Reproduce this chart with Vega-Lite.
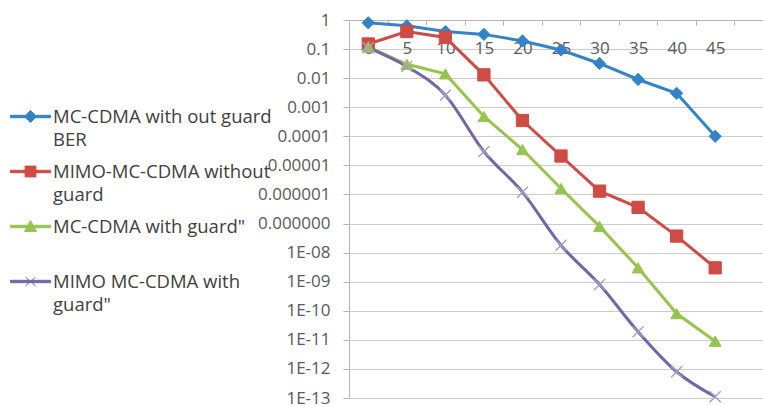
{
  "$schema": "https://vega.github.io/schema/vega-lite/v6.json",
  "width": 414,
  "height": 378,
  "autosize": {"type": "none"},
  "padding": {"left": 349, "top": 20, "right": 0, "bottom": 8},
  "background": "white",
  "config": {
    "view": {"stroke": null},
    "font": "Open Sans",
    "axis": {"labelFont": "Open Sans", "labelColor": "#595959", "labelFontSize": 17, "domainColor": "#b5b5b5", "tickColor": "#b5b5b5", "gridColor": "#cccccc", "title": null}
  },
  "data": {
    "values": [
      {"snr": 0, "series": "MC-CDMA with out guard BER", "ber": 0.8},
      {"snr": 5, "series": "MC-CDMA with out guard BER", "ber": 0.63},
      {"snr": 10, "series": "MC-CDMA with out guard BER", "ber": 0.4},
      {"snr": 15, "series": "MC-CDMA with out guard BER", "ber": 0.32},
      {"snr": 20, "series": "MC-CDMA with out guard BER", "ber": 0.19},
      {"snr": 25, "series": "MC-CDMA with out guard BER", "ber": 0.093},
      {"snr": 30, "series": "MC-CDMA with out guard BER", "ber": 0.032},
      {"snr": 35, "series": "MC-CDMA with out guard BER", "ber": 0.009},
      {"snr": 40, "series": "MC-CDMA with out guard BER", "ber": 0.003},
      {"snr": 45, "series": "MC-CDMA with out guard BER", "ber": 0.0001},
      {"snr": 0, "series": "MIMO-MC-CDMA without guard", "ber": 0.15},
      {"snr": 5, "series": "MIMO-MC-CDMA without guard", "ber": 0.4},
      {"snr": 10, "series": "MIMO-MC-CDMA without guard", "ber": 0.25},
      {"snr": 15, "series": "MIMO-MC-CDMA without guard", "ber": 0.013},
      {"snr": 20, "series": "MIMO-MC-CDMA without guard", "ber": 0.00035},
      {"snr": 25, "series": "MIMO-MC-CDMA without guard", "ber": 2.1e-5},
      {"snr": 30, "series": "MIMO-MC-CDMA without guard", "ber": 1.3e-6},
      {"snr": 35, "series": "MIMO-MC-CDMA without guard", "ber": 3.6e-7},
      {"snr": 40, "series": "MIMO-MC-CDMA without guard", "ber": 3.7e-8},
      {"snr": 45, "series": "MIMO-MC-CDMA without guard", "ber": 3e-9},
      {"snr": 0, "series": "MC-CDMA with guard\"", "ber": 0.12},
      {"snr": 5, "series": "MC-CDMA with guard\"", "ber": 0.03},
      {"snr": 10, "series": "MC-CDMA with guard\"", "ber": 0.014},
      {"snr": 15, "series": "MC-CDMA with guard\"", "ber": 0.00048},
      {"snr": 20, "series": "MC-CDMA with guard\"", "ber": 3.5e-5},
      {"snr": 25, "series": "MC-CDMA with guard\"", "ber": 1.6e-6},
      {"snr": 30, "series": "MC-CDMA with guard\"", "ber": 8e-8},
      {"snr": 35, "series": "MC-CDMA with guard\"", "ber": 3e-9},
      {"snr": 40, "series": "MC-CDMA with guard\"", "ber": 8e-11},
      {"snr": 45, "series": "MC-CDMA with guard\"", "ber": 9e-12},
      {"snr": 0, "series": "MIMO MC-CDMA with guard\"", "ber": 0.11},
      {"snr": 5, "series": "MIMO MC-CDMA with guard\"", "ber": 0.025},
      {"snr": 10, "series": "MIMO MC-CDMA with guard\"", "ber": 0.0026},
      {"snr": 15, "series": "MIMO MC-CDMA with guard\"", "ber": 3e-5},
      {"snr": 20, "series": "MIMO MC-CDMA with guard\"", "ber": 1.2e-6},
      {"snr": 25, "series": "MIMO MC-CDMA with guard\"", "ber": 1.8e-8},
      {"snr": 30, "series": "MIMO MC-CDMA with guard\"", "ber": 8e-10},
      {"snr": 35, "series": "MIMO MC-CDMA with guard\"", "ber": 1.9e-11},
      {"snr": 40, "series": "MIMO MC-CDMA with guard\"", "ber": 8e-13},
      {"snr": 45, "series": "MIMO MC-CDMA with guard\"", "ber": 1.1e-13}
    ]
  },
  "encoding": {
    "x": {
      "field": "snr", "type": "quantitative",
      "scale": {"domain": [-2.5, 51.2], "nice": false, "zero": false},
      "axis": {
        "orient": "top",
        "values": [-2.5, 2.5, 7.5, 12.5, 17.5, 22.5, 27.5, 32.5, 37.5, 42.5, 47.5],
        "labelExpr": "datum.value > 45 ? '' : format(datum.value + 2.5, 'd')",
        "labelOffset": 19.3,
        "labelAlign": "center",
        "labelBaseline": "middle",
        "tickSize": -5,
        "labelPadding": -23,
        "grid": false,
        "labelOverlap": false,
        "labelFlush": false
      }
    },
    "y": {
      "field": "ber", "type": "quantitative",
      "scale": {"type": "log", "domain": [1e-13, 1], "nice": false},
      "axis": {
        "values": [1, 0.1, 0.01, 0.001, 0.0001, 1e-5, 1e-6, 1e-7, 1e-8, 1e-9, 1e-10, 1e-11, 1e-12, 1e-13],
        "labelExpr": "round(log(datum.value)/LN10) >= -6 ? format(datum.value, '.' + (-round(log(datum.value)/LN10)) + 'f') : (round(log(datum.value)/LN10) == -7 ? '0.000000' : '1E-' + (round(log(datum.value)/LN10) > -10 ? '0' : '') + (-round(log(datum.value)/LN10)))",
        "tickSize": 6,
        "labelPadding": 13,
        "grid": true,
        "labelOverlap": false,
        "labelBaseline": "middle"
      }
    }
  },
  "layer": [
    {
      "transform": [{"filter": {"not": {"field": "series", "equal": "MIMO MC-CDMA with guard\""}}}],
      "mark": {"type": "line", "strokeWidth": 3},
      "encoding": {
        "color": {
          "field": "series", "type": "nominal",
          "scale": {
            "domain": ["MC-CDMA with out guard BER", "MIMO-MC-CDMA without guard", "MC-CDMA with guard\"", "MIMO MC-CDMA with guard\""],
            "range": ["#3483c8", "#cf4b45", "#95c54f", "#7763a6"]
          },
          "legend": {
            "title": null,
            "orient": "none",
            "legendX": -339,
            "legendY": 76,
            "padding": 0,
            "symbolSize": 1600,
            "labelOffset": 2,
            "labelFont": "Open Sans",
            "labelFontSize": 18.5,
            "labelColor": "#404040",
            "labelLimit": 0,
            "rowPadding": 2,
            "labelExpr": "datum.label == 'MC-CDMA with out guard BER' ? ['MC-CDMA with out guard', 'BER'] : datum.label == 'MIMO-MC-CDMA without guard' ? ['MIMO-MC-CDMA without', 'guard'] : datum.label == 'MIMO MC-CDMA with guard\"' ? ['MIMO MC-CDMA with', 'guard\"'] : [datum.label, ' ']",
            "encode": {
              "symbols": {
                "update": {
                  "shape": {"signal": "datum.value == 'MC-CDMA with out guard BER' ? 'M-1,-0.06H1V0.06H-1Z M0,-0.3L0.3,0L0,0.3L-0.3,0Z' : datum.value == 'MIMO-MC-CDMA without guard' ? 'M-1,-0.06H1V0.06H-1Z M-0.27,-0.27H0.27V0.27H-0.27Z' : datum.value == 'MC-CDMA with guard\"' ? 'M-1,-0.06H1V0.06H-1Z M0,-0.3L0.3,0.25H-0.3Z' : 'M-1,-0.06H1V0.06H-1Z M-0.25,-0.22L0.25,0.22M-0.25,0.22L0.25,-0.22'"},
                  "fill": {"scale": "color", "field": "value"},
                  "stroke": {"scale": "color", "field": "value"},
                  "strokeWidth": {"value": 1},
                  "opacity": {"value": 1}
                }
              },
              "labels": {"update": {"lineHeight": {"value": 23}}}
            }
          }
        }
      }
    },
    {
      "transform": [{"filter": {"field": "series", "equal": "MIMO MC-CDMA with guard\""}}],
      "mark": {"type": "line", "strokeWidth": 3, "interpolate": "monotone"},
      "encoding": {"color": {"field": "series", "type": "nominal"}}
    },
    {
      "transform": [{"filter": {"field": "series", "equal": "MC-CDMA with out guard BER"}}],
      "mark": {"type": "point", "shape": "diamond", "filled": true, "size": 150, "opacity": 1, "strokeWidth": 1, "stroke": "#3483c8"},
      "encoding": {"color": {"field": "series", "type": "nominal"}}
    },
    {
      "transform": [{"filter": {"field": "series", "equal": "MIMO-MC-CDMA without guard"}}],
      "mark": {"type": "point", "shape": "square", "filled": true, "size": 150, "opacity": 1, "strokeWidth": 1, "stroke": "#cf4b45"},
      "encoding": {"color": {"field": "series", "type": "nominal"}}
    },
    {
      "transform": [{"filter": {"field": "series", "equal": "MC-CDMA with guard\""}}],
      "mark": {"type": "point", "shape": "triangle-up", "filled": true, "size": 140, "opacity": 1, "strokeWidth": 1, "stroke": "#95c54f"},
      "encoding": {"color": {"field": "series", "type": "nominal"}}
    },
    {
      "transform": [{"filter": {"field": "series", "equal": "MIMO MC-CDMA with guard\""}}],
      "mark": {"type": "point", "shape": "M-1,-1L1,1M-1,1L1,-1", "filled": false, "size": 120, "opacity": 1, "strokeWidth": 1.4, "stroke": "#a3a0c4"},
      "encoding": {}
    }
  ]
}
